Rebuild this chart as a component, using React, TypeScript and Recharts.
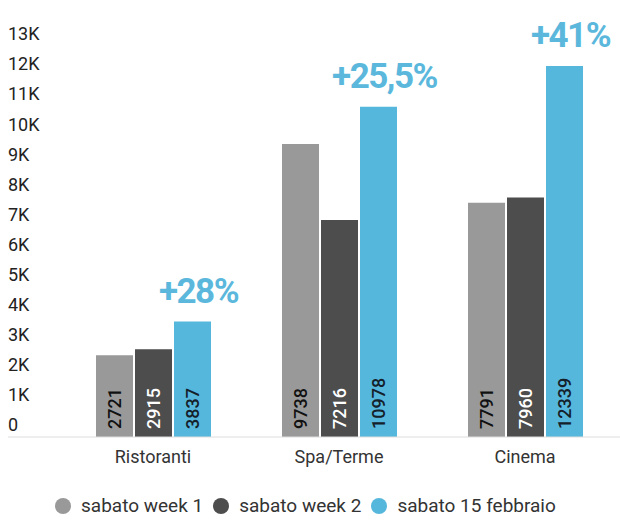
import React from 'react';
import { BarChart, Bar, XAxis, YAxis, Legend, LabelList } from 'recharts';

const categories = ['Ristoranti', 'Spa/Terme', 'Cinema'];
const week1 = [2721, 9738, 7791];
const week2 = [2915, 7216, 7960];
const feb15 = [3837, 10978, 12339];
const growth = ['+28%', '+25,5%', '+41%'];
const yTicks = [0, 1000, 2000, 3000, 4000, 5000, 6000, 7000, 8000, 9000, 10000, 11000, 12000, 13000];

const series = [
  { key: 'w1', name: 'sabato week 1', color: '#999999', text: '#111111' },
  { key: 'w2', name: 'sabato week 2', color: '#4d4d4d', text: '#ffffff' },
  { key: 'f15', name: 'sabato 15 febbraio', color: '#56b7dc', text: '#14202a' },
];

const data = categories.map((name, i) => ({
  name,
  w1: week1[i],
  w2: week2[i],
  f15: feb15[i],
  growth: growth[i],
}));

const FONT = 'Roboto, sans-serif';

const YTick = (props: any) => {
  const { y, payload } = props;
  const v = payload.value;
  return (
    <text x={8} y={y - 12} dy="0.35em" textAnchor="start" fontSize={18} fill="#222" fontFamily={FONT}>
      {v === 0 ? '0' : `${v / 1000}K`}
    </text>
  );
};

const insideLabel = (color: string) => (props: any) => {
  const { x, y, width, height, value } = props;
  const cx = x + width / 2;
  const by = y + height - 8;
  return (
    <text
      x={cx}
      y={by}
      transform={`rotate(-90, ${cx}, ${by})`}
      textAnchor="start"
      dominantBaseline="central"
      fontSize={18}
      fontWeight={500}
      fill={color}
      fontFamily={FONT}
    >
      {value}
    </text>
  );
};

const growthLabel = (props: any) => {
  const { x, y, width, value } = props;
  return (
    <text
      x={x + width / 2 + 6}
      y={y - 19}
      textAnchor="middle"
      fontSize={35}
      fontWeight={700}
      letterSpacing={-1.5}
      fill="#5bb8dc"
      fontFamily={FONT}
    >
      {value}
    </text>
  );
};

const LegendContent = () => (
  <div style={{ display: 'flex', justifyContent: 'flex-start', alignItems: 'center', paddingTop: 19, paddingLeft: 48, fontFamily: FONT, fontSize: 19, color: '#333' }}>
    {series.map((s) => (
      <div key={s.key} style={{ display: 'flex', alignItems: 'center', marginRight: 10 }}>
        <span style={{ width: 16, height: 16, borderRadius: 8, background: s.color, marginRight: 10, display: 'inline-block' }} />
        <span>{s.name}</span>
      </div>
    ))}
  </div>
);

export default function App() {
  return (
    <div style={{ position: 'absolute', left: 0, top: 0, background: '#fff' }}>
      <BarChart width={620} height={525} data={data} margin={{ top: 46, right: 0, bottom: 0, left: 7 }} barSize={37} barGap={2}>
        <XAxis
          dataKey="name"
          padding={{ left: 52, right: 2 }}
          height={38}
          axisLine={{ stroke: '#dddddd' }}
          tickLine={false}
          tick={{ fontSize: 18, fill: '#333', fontFamily: FONT }}
          dy={5}
        />
        <YAxis width={1} domain={[0, 13000]} ticks={yTicks} axisLine={false} tickLine={false} tick={<YTick />} interval={0} />
        <Legend verticalAlign="bottom" height={50} content={<LegendContent />} />
        {series.map((s) => (
          <Bar key={s.key} dataKey={s.key} name={s.name} fill={s.color} isAnimationActive={false}>
            <LabelList dataKey={s.key} content={insideLabel(s.text)} />
            {s.key === 'f15' && <LabelList dataKey="growth" content={growthLabel} />}
          </Bar>
        ))}
      </BarChart>
    </div>
  );
}
